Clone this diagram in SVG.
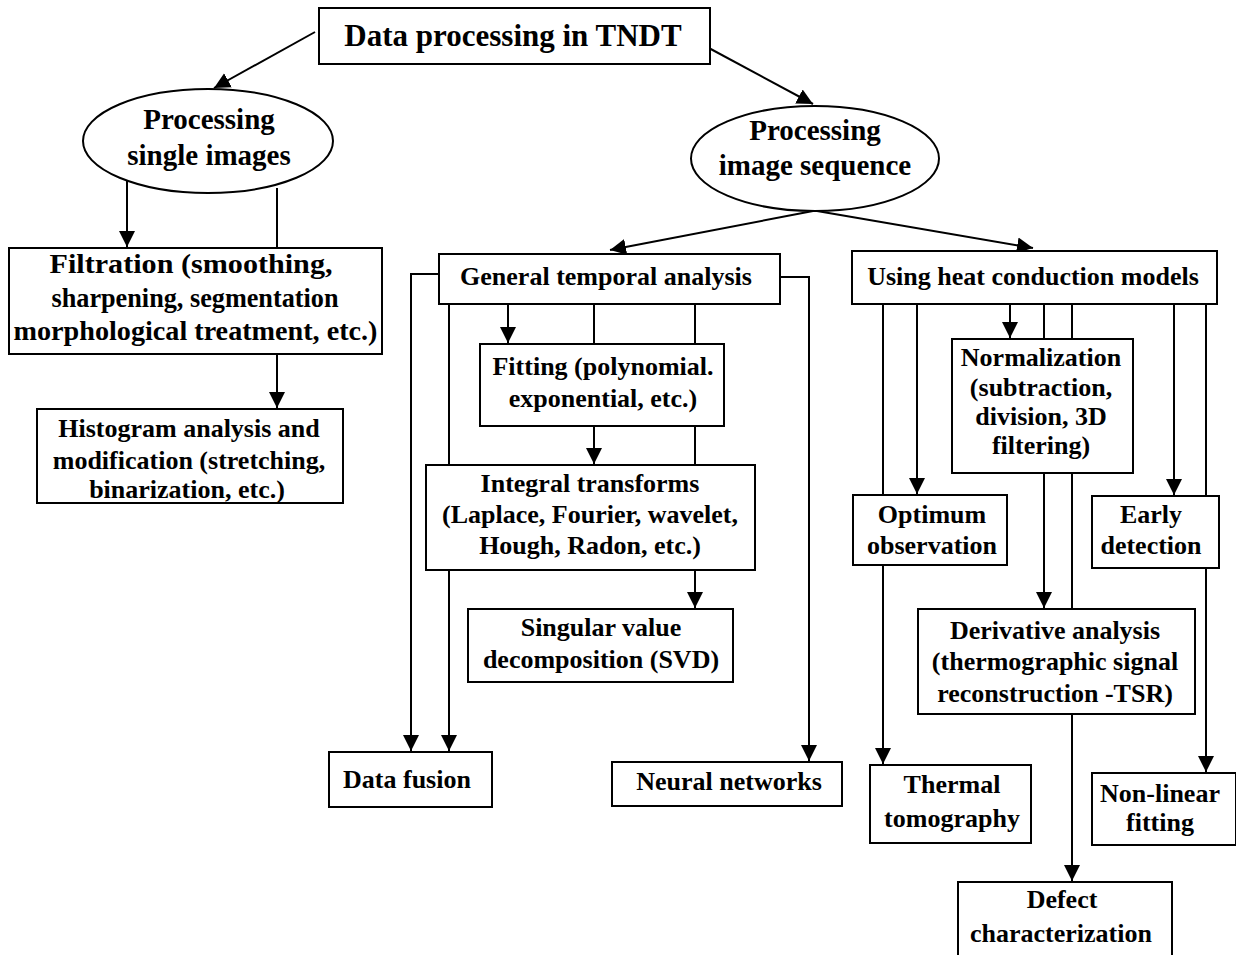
<svg xmlns="http://www.w3.org/2000/svg" width="1236" height="955" viewBox="0 0 1236 955">
<style>
.box{fill:#fff;stroke:#000;stroke-width:2}
.t{font-family:"Liberation Serif","Times New Roman",serif;font-weight:bold;font-size:26px;text-anchor:middle;fill:#000}
.c{fill:none;stroke:#000;stroke-width:2}
.a{marker-end:url(#ah)}
</style>
<defs>
<marker id="ah" markerUnits="userSpaceOnUse" markerWidth="17" markerHeight="17" viewBox="0 0 17 17" refX="16" refY="8.5" orient="auto">
<path d="M0,0.5 L16,8.5 L0,16.5 z" fill="#000"/>
</marker>
</defs>
<rect width="1236" height="955" fill="#fff"/>
<g id="connectors">
<path class="c a" d="M315,32 L214,88"/>
<path class="c a" d="M707,47 L813,104"/>
<path class="c a" d="M127,180 V247"/>
<path class="c a" d="M277,188 V408"/>
<path class="c a" d="M813,211 L610,250"/>
<path class="c a" d="M817,211 L1033,248"/>
<path class="c a" d="M439,274 H411 V751"/>
<path class="c a" d="M449,304 V751"/>
<path class="c a" d="M508,304 V343"/>
<path class="c a" d="M594,304 V464"/>
<path class="c a" d="M695,304 V608"/>
<path class="c a" d="M780,277 H809 V761"/>
<path class="c a" d="M883,304 V764"/>
<path class="c a" d="M917,304 V494"/>
<path class="c a" d="M1010,304 V338"/>
<path class="c a" d="M1044,304 V608"/>
<path class="c a" d="M1072,304 V881"/>
<path class="c a" d="M1174,304 V495"/>
<path class="c a" d="M1206,304 V772"/>
</g>
<g id="n-root">
<rect class="box" x="319" y="8" width="391" height="56"/>
<text class="t" x="513" y="46" style="font-size:31px">Data processing in TNDT</text>
</g>
<g id="n-single">
<ellipse class="box" cx="208" cy="141" rx="125" ry="52"/>
<text class="t" x="209" y="129" style="font-size:29px">Processing</text>
<text class="t" x="209" y="165" style="font-size:29px">single images</text>
</g>
<g id="n-sequence">
<ellipse class="box" cx="815" cy="158.5" rx="124" ry="52.5"/>
<text class="t" x="815" y="140" style="font-size:29px">Processing</text>
<text class="t" x="815" y="175" style="font-size:29px">image sequence</text>
</g>
<g id="n-filtration">
<rect class="box" x="9" y="248" width="373" height="106"/>
<text class="t" x="191" y="273" style="font-size:28px" textLength="283" lengthAdjust="spacingAndGlyphs">Filtration (smoothing,</text>
<text class="t" x="195" y="307" style="font-size:28px" textLength="287" lengthAdjust="spacingAndGlyphs">sharpening, segmentation</text>
<text class="t" x="195.5" y="340" style="font-size:28px" textLength="364" lengthAdjust="spacingAndGlyphs">morphological treatment, etc.)</text>
</g>
<g id="n-histogram">
<rect class="box" x="37" y="409" width="306" height="94"/>
<text class="t" x="189" y="437">Histogram analysis and</text>
<text class="t" x="189" y="469">modification (stretching,</text>
<text class="t" x="187" y="498">binarization, etc.)</text>
</g>
<g id="n-temporal">
<rect class="box" x="439" y="254" width="341" height="50"/>
<text class="t" x="606" y="285">General temporal analysis</text>
</g>
<g id="n-fitting">
<rect class="box" x="480" y="344" width="244" height="82"/>
<text class="t" x="603" y="375">Fitting (polynomial.</text>
<text class="t" x="603" y="407">exponential, etc.)</text>
</g>
<g id="n-integral">
<rect class="box" x="426" y="465" width="329" height="105"/>
<text class="t" x="590" y="492">Integral transforms</text>
<text class="t" x="590" y="523">(Laplace, Fourier, wavelet,</text>
<text class="t" x="590" y="554">Hough, Radon, etc.)</text>
</g>
<g id="n-svd">
<rect class="box" x="468" y="609" width="265" height="73"/>
<text class="t" x="601" y="636">Singular value</text>
<text class="t" x="601" y="668">decomposition (SVD)</text>
</g>
<g id="n-fusion">
<rect class="box" x="329" y="752" width="163" height="55"/>
<text class="t" x="407" y="788">Data fusion</text>
</g>
<g id="n-neural">
<rect class="box" x="612" y="762" width="230" height="44"/>
<text class="t" x="729" y="790">Neural networks</text>
</g>
<g id="n-heat">
<rect class="box" x="852" y="251" width="365" height="53"/>
<text class="t" x="1033" y="285">Using heat conduction models</text>
</g>
<g id="n-normalization">
<rect class="box" x="952" y="339" width="181" height="134"/>
<text class="t" x="1041" y="366">Normalization</text>
<text class="t" x="1041" y="396">(subtraction,</text>
<text class="t" x="1041" y="425">division, 3D</text>
<text class="t" x="1041" y="454">filtering)</text>
</g>
<g id="n-optimum">
<rect class="box" x="853" y="495" width="154" height="70"/>
<text class="t" x="932" y="523">Optimum</text>
<text class="t" x="932" y="554">observation</text>
</g>
<g id="n-early">
<rect class="box" x="1092" y="496" width="127" height="72"/>
<text class="t" x="1151" y="523">Early</text>
<text class="t" x="1151" y="554">detection</text>
</g>
<g id="n-derivative">
<rect class="box" x="918" y="609" width="277" height="105"/>
<text class="t" x="1055" y="639">Derivative analysis</text>
<text class="t" x="1055" y="670">(thermographic signal</text>
<text class="t" x="1055" y="702">reconstruction -TSR)</text>
</g>
<g id="n-tomography">
<rect class="box" x="870" y="765" width="161" height="78"/>
<text class="t" x="952" y="793">Thermal</text>
<text class="t" x="952" y="827">tomography</text>
</g>
<g id="n-nonlinear">
<rect class="box" x="1092" y="773" width="144" height="72"/>
<text class="t" x="1160" y="802">Non-linear</text>
<text class="t" x="1160" y="831">fitting</text>
</g>
<g id="n-defect">
<rect class="box" x="958" y="882" width="214" height="90"/>
<text class="t" x="1062" y="908">Defect</text>
<text class="t" x="1061" y="942">characterization</text>
</g>
</svg>
